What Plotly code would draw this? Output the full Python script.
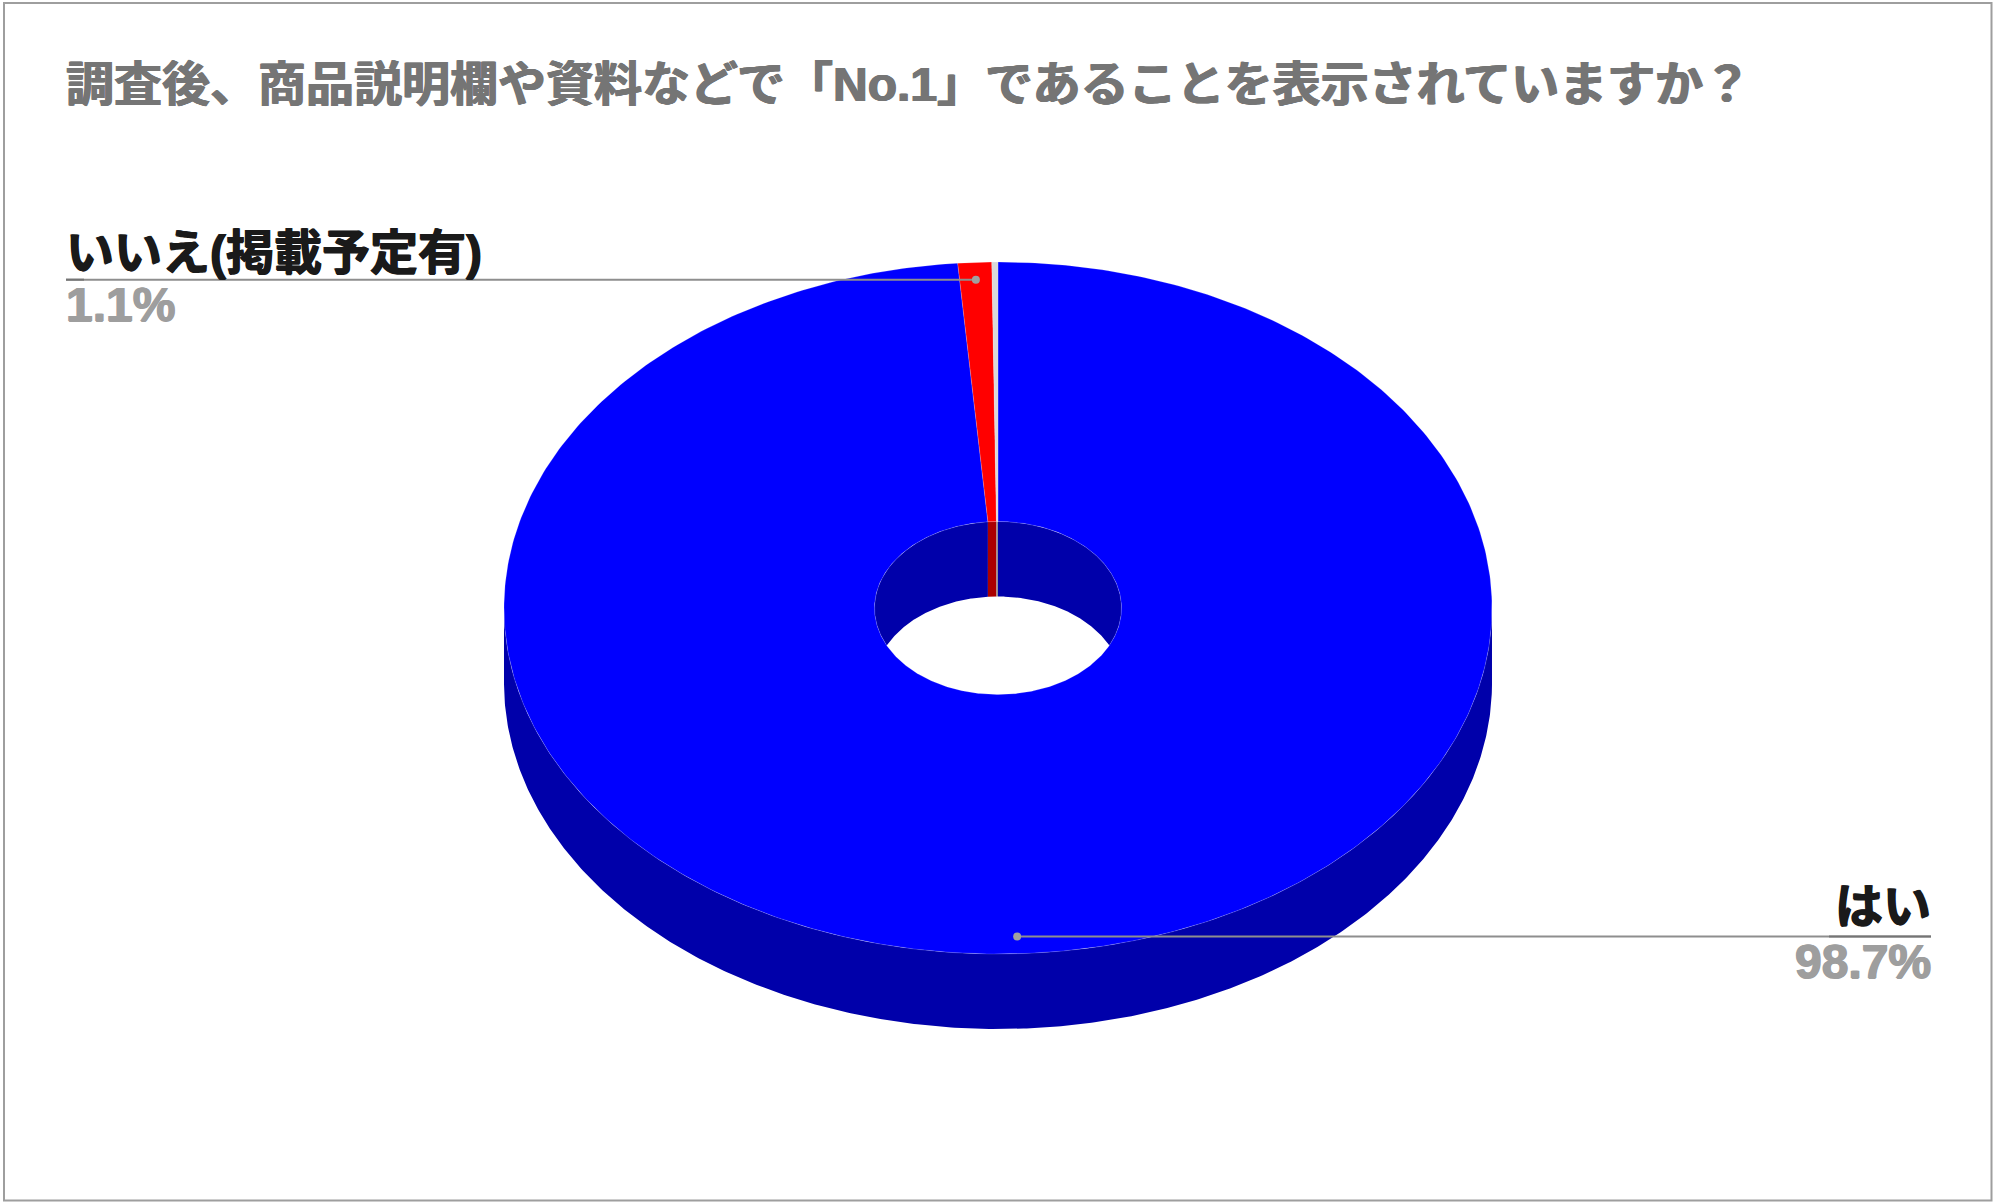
import numpy as np
import plotly.graph_objects as go

# ---- data ----
categories = ["はい", "いいえ(掲載予定有)", "その他"]
values = [98.7, 1.1, 0.2]
value_labels = ["98.7%", "1.1%", ""]
title_text = "調査後、商品説明欄や資料などで「No.1」であることを表示されていますか？"

# ---- styles ----
top_colors = ["#0000FF", "#FF0000", "#D9D9D9"]
wall_colors = ["#0000AA", "#AA0000", "#919191"]
FONT = "Liberation Sans, Arimo, Noto Sans CJK JP, sans-serif"
W, H = 1994, 1204
CX, CY, RX, RY = 998.0, 608.0, 494.0, 346.0   # pixel geometry of the top ellipse
DEPTH = 75.0 / RY      # extrusion in data units (outer radius = 1)
HOLE = 0.25
FONT_SIZE = 48


def heavy(color):
    return f"0.8px 0 0 {color}, -0.8px 0 0 {color}, 0 0.5px 0 {color}"


def angle_spans(vals):
    edges = np.cumsum([0.0] + list(vals)) / sum(vals) * 2 * np.pi
    return list(zip(edges[:-1], edges[1:]))


def sector(a0, a1, r_out, r_in, n=500):
    t = np.linspace(a0, a1, max(4, int(n * (a1 - a0) / (2 * np.pi)) + 4))
    x = np.r_[r_out * np.sin(t), r_in * np.sin(t[::-1])]
    y = np.r_[r_out * np.cos(t), r_in * np.cos(t[::-1])]
    return np.r_[x, x[0]], np.r_[y, y[0]]


def runs(t, mask):
    out, cur = [], []
    for ti, m in zip(t, mask):
        if m:
            cur.append(ti)
        elif cur:
            out.append(np.array(cur)); cur = []
    if cur:
        out.append(np.array(cur))
    return [r for r in out if len(r) > 1]


def wall(a0, a1, r, front):
    """Polygons of the wall at radius r over a slice; front = outer wall, else inner wall seen through the hole."""
    t = np.linspace(a0, a1, max(6, int(900 * (a1 - a0) / (2 * np.pi)) + 6))
    c = np.cos(t)
    mask = c <= 0 if front else c >= 0
    xs, ys = [], []
    for run in runs(t, mask):
        sx = r * np.sin(run)
        top = r * np.cos(run)
        low = top - DEPTH
        if not front:
            low = np.maximum(low, -np.abs(top))
        xs += list(sx) + list(sx[::-1]) + [sx[0], None]
        ys += list(top) + list(low[::-1]) + [top[0], None]
    return xs, ys


fig = go.Figure()
spans = angle_spans(values)

for (a0, a1), col in zip(spans, wall_colors):
    x, y = wall(a0, a1, 1.0, True)
    fig.add_trace(go.Scatter(x=x, y=y, mode="lines", fill="toself", fillcolor=col,
                             line=dict(width=0), hoverinfo="skip"))
for (a0, a1), col in zip(spans, wall_colors):
    x, y = wall(a0, a1, HOLE, False)
    fig.add_trace(go.Scatter(x=x, y=y, mode="lines", fill="toself", fillcolor=col,
                             line=dict(width=0), hoverinfo="skip"))
for (a0, a1), col, name in zip(spans, top_colors, categories):
    x, y = sector(a0, a1, 1.0, HOLE)
    fig.add_trace(go.Scatter(x=x, y=y, mode="lines", fill="toself", fillcolor=col, name=name,
                             line=dict(width=1, color="rgba(255,255,255,0.18)"), hoverinfo="skip"))

# leader lines: each starts at the slice's mid-angle
px2x = lambda p: (p - CX) / RX
label_ends = [(1931, 1829), (66, 84)]
for i, (end, under) in enumerate(label_ends):
    mid = sum(spans[i]) / 2
    ax, ay = 0.95 * np.sin(mid), 0.95 * np.cos(mid)
    fig.add_trace(go.Scatter(x=[ax, px2x(end)], y=[ay, ay], mode="lines",
                             line=dict(color="#8E8E8E", width=2), hoverinfo="skip"))
    fig.add_trace(go.Scatter(x=[px2x(under), px2x(end)], y=[ay, ay], mode="lines",
                             line=dict(color="#757575", width=2), hoverinfo="skip"))
    fig.add_trace(go.Scatter(x=[ax], y=[ay], mode="markers",
                             marker=dict(color="#A0A0A0", size=8), hoverinfo="skip"))


# labels
def label(text, px, py, color, anchor):
    fig.add_annotation(text=f"<b>{text}</b>", x=px / W, y=1 - py / H, xref="paper", yref="paper",
                       xanchor=anchor, yanchor="middle", showarrow=False, xshift=0,
                       font=dict(family=FONT, size=FONT_SIZE, color=color, shadow=heavy(color)),
                       borderpad=0, borderwidth=0)


label(categories[0], 1931, 906, "#1A1A1A", "right")
label(value_labels[0], 1931, 961, "#9E9E9E", "right")
label(categories[1], 66, 252, "#1A1A1A", "left")
label(value_labels[1], 66, 304, "#9E9E9E", "left")

fig.update_layout(
    width=W, height=H, margin=dict(l=0, r=0, t=0, b=0, pad=0),
    paper_bgcolor="white", plot_bgcolor="white", showlegend=False,
    title=dict(text=f"<b>{title_text}</b>", x=66 / W, xanchor="left", xref="paper",
               y=1 - 84 / H, yanchor="middle", yref="paper",
               font=dict(family=FONT, size=FONT_SIZE, color="#757575", shadow=heavy("#757575"))),
    xaxis=dict(range=[(0 - CX) / RX, (W - CX) / RX], visible=False, fixedrange=True),
    yaxis=dict(range=[(CY - H) / RY, CY / RY], visible=False, fixedrange=True),
    shapes=[dict(type="rect", xref="paper", yref="paper", x0=4 / W, x1=1991.5 / W,
                 y0=1 - 1200.5 / H, y1=1 - 3 / H, line=dict(color="#9E9E9E", width=2),
                 fillcolor="rgba(0,0,0,0)", layer="below")],
)

fig.write_html("out.html", config=dict(displayModeBar=False),
               post_script="document.body.style.margin='0';")
